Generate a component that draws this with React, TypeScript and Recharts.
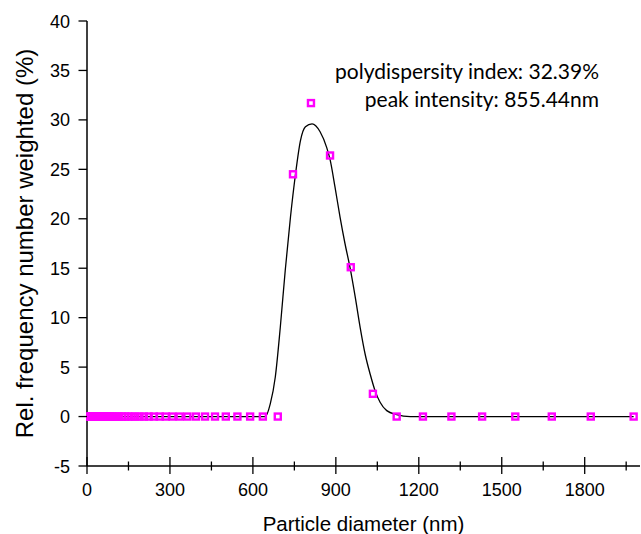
import { ComposedChart, Line, Scatter, XAxis, YAxis } from "recharts";

// measured bins (nm) and their relative frequency (%)
const binDiameters = [
  12, 13, 14, 15, 16.5, 18, 19.5, 21, 23, 25, 27, 29.5, 32, 34.5, 37.5, 41, 44, 48, 52, 56,
  61, 66, 72, 78, 84, 91, 99, 108, 117, 127, 137, 149, 161, 175, 190, 206, 223, 242, 263, 285,
  309, 335, 363, 394, 427, 463, 502, 544, 590, 636, 690, 745, 810, 879, 954, 1034, 1120, 1215,
  1318, 1429, 1549, 1681, 1822, 1977,
];
const binFrequencies = [
  0, 0, 0, 0, 0, 0, 0, 0, 0, 0, 0, 0, 0, 0, 0, 0, 0, 0, 0, 0,
  0, 0, 0, 0, 0, 0, 0, 0, 0, 0, 0, 0, 0, 0, 0, 0, 0, 0, 0, 0,
  0, 0, 0, 0, 0, 0, 0, 0, 0, 0, 0, 24.5, 31.7, 26.4, 15.1, 2.3, 0, 0,
  0, 0, 0, 0, 0, 0,
];

// fitted distribution curve
const fitDiameters = [
  0, 600, 645, 663, 681, 699, 717, 736, 754, 772, 790, 814, 843, 867, 879, 897, 915, 933, 951,
  970, 988, 1006, 1024, 1042, 1060, 1084, 1120, 1169, 1977,
];
const fitFrequencies = [
  0, 0, 0, 1.3, 4.0, 9.0, 14.8, 20.2, 24.5, 27.9, 29.3, 29.6, 28.8, 27.2, 26.0, 23.2, 20.2, 17.5,
  15.1, 12.1, 9.0, 6.3, 4.3, 2.6, 1.45, 0.6, 0.2, 0, 0,
];

const xTicks = [0, 150, 300, 450, 600, 750, 900, 1050, 1200, 1350, 1500, 1650, 1800, 1950];
const yTicks = [-5, 0, 5, 10, 15, 20, 25, 30, 35, 40];

const points = binDiameters.map((x, i) => ({ x, y: binFrequencies[i] }));
const fit = fitDiameters.map((x, i) => ({ x, y: fitFrequencies[i] }));

const axisFont = "Liberation Sans, Arial, sans-serif";

const XTick = ({ x, y, payload }: any) => {
  const major = payload.value % 300 === 0;
  return (
    <g>
      <line
        x1={x}
        x2={x}
        y1={y - (major ? 9 : 4.5)}
        y2={y + (major ? 8 : 4.5)}
        stroke="#000"
        strokeWidth={1.3}
      />
      {major && (
        <text x={x} y={y + 30} textAnchor="middle" fill="#000" style={{ fontFamily: axisFont, fontSize: 18 }}>
          {payload.value}
        </text>
      )}
    </g>
  );
};

const YTick = ({ x, y, payload }: any) => (
  <g>
    <line x1={x - 8.5} x2={x} y1={y} y2={y} stroke="#000" strokeWidth={1.3} />
    <text x={x - 17} y={y + 6.5} textAnchor="end" fill="#000" style={{ fontFamily: axisFont, fontSize: 18 }}>
      {payload.value}
    </text>
  </g>
);

const SquareDot = ({ cx, cy }: any) => (
  <rect x={cx - 3} y={cy - 3} width={6} height={6} fill="none" stroke="#ff00ff" strokeWidth={2.4} />
);

export default function App() {
  return (
    <div style={{ position: "absolute", left: 0, top: 0, width: 641, height: 534, background: "#fff" }}>
      <ComposedChart width={641} height={534} margin={{ top: 21, right: 1, bottom: 0, left: 0 }}>
        <XAxis
          type="number"
          dataKey="x"
          domain={[0, 2000]}
          ticks={xTicks}
          interval={0}
          height={68}
          tickSize={0}
          tickMargin={0}
          tick={<XTick />}
          axisLine={{ stroke: "#000", strokeWidth: 1.5 }}
          label={{
            value: "Particle diameter (nm)",
            position: "insideBottom",
            offset: 3,
            fill: "#000",
            style: { fontFamily: axisFont, fontSize: 20.5 },
          }}
        />
        <XAxis
          xAxisId="top"
          orientation="top"
          type="number"
          domain={[0, 2000]}
          height={0}
          tick={false}
          tickLine={false}
          axisLine={{ stroke: "#000", strokeWidth: 1.5 }}
        />
        <YAxis
          type="number"
          domain={[-5, 40]}
          ticks={yTicks}
          interval={0}
          width={87}
          tickSize={0}
          tickMargin={0}
          tick={<YTick />}
          axisLine={{ stroke: "#000", strokeWidth: 1.5 }}
          label={{
            value: "Rel. frequency number weighted (%)",
            angle: -90,
            position: "insideLeft",
            offset: 24.5,
            fill: "#000",
            style: { textAnchor: "middle", fontFamily: axisFont, fontSize: 24 },
          }}
        />
        <YAxis
          yAxisId="right"
          orientation="right"
          type="number"
          domain={[-5, 40]}
          width={0}
          tick={false}
          tickLine={false}
          axisLine={{ stroke: "#000", strokeWidth: 1.5 }}
        />
        <Line
          data={fit}
          dataKey="y"
          type="monotone"
          stroke="#000"
          strokeWidth={1.3}
          dot={false}
          activeDot={false}
          isAnimationActive={false}
        />
        <Scatter data={points} dataKey="y" shape={<SquareDot />} isAnimationActive={false} />
      </ComposedChart>
      <div
        style={{
          position: "absolute",
          right: 42,
          top: 57,
          textAlign: "right",
          fontFamily: "Lato, 'Open Sans', sans-serif",
          fontSize: 21,
          lineHeight: "28px",
          color: "#000",
        }}
      >
        <div>polydispersity index: 32.39%</div>
        <div>peak intensity: 855.44nm</div>
      </div>
    </div>
  );
}
